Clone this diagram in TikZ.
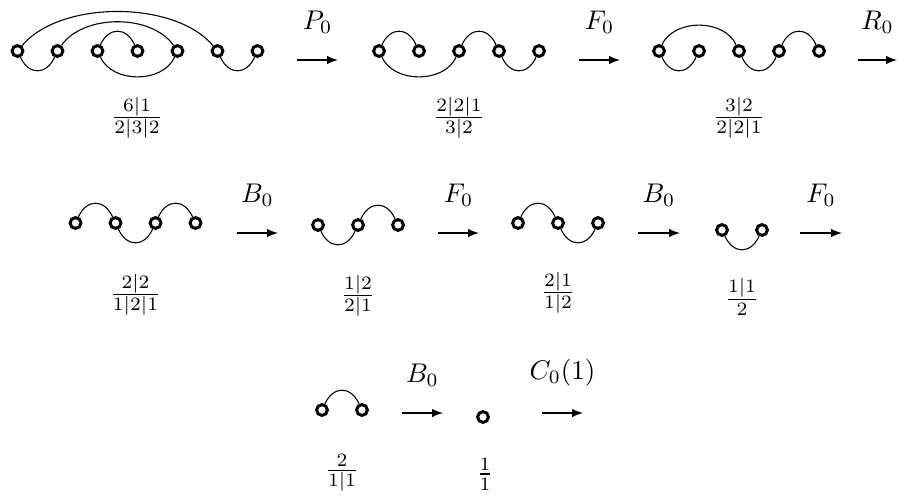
\documentclass[tikz,border=0pt]{standalone}
\usepackage{amsmath, amssymb}
\usetikzlibrary{arrows}

\begin{document}
\begin{tikzpicture}[x=0.37pt, y=-0.37pt, >=latex,
    dot/.style={circle, draw, line width=1.1pt, minimum size=4pt, inner sep=0pt},
    over/.style={out=65, in=115, looseness=1.5},
    under/.style={out=-65, in=-115, looseness=1.5}]
    \useasboundingbox (0,0) rectangle (899,498);

    % Draw nodes, first row
    \node[dot] (a1) at (17.5,51) {};
    \node[dot] (a2) at (57.5,51) {};
    \node[dot] (a3) at (97.5,51) {};
    \node[dot] (a4) at (137.5,51) {};
    \node[dot] (a5) at (177.5,51) {};
    \node[dot] (a6) at (217.5,51) {};
    \node[dot] (a7) at (257.5,51) {};

    \node[dot] (b1) at (379,51) {};
    \node[dot] (b2) at (419,51) {};
    \node[dot] (b3) at (459,51) {};
    \node[dot] (b4) at (499,51) {};
    \node[dot] (b5) at (539,51) {};

    \node[dot] (c1) at (659,51) {};
    \node[dot] (c2) at (699,51) {};
    \node[dot] (c3) at (739,51) {};
    \node[dot] (c4) at (779,51) {};
    \node[dot] (c5) at (819,51) {};

    % Draw nodes, second row
    \node[dot] (d1) at (75.5,223) {};
    \node[dot] (d2) at (115.5,223) {};
    \node[dot] (d3) at (155.5,223) {};
    \node[dot] (d4) at (195.5,223) {};

    \node[dot] (e1) at (318,225) {};
    \node[dot] (e2) at (358,225) {};
    \node[dot] (e3) at (398,225) {};

    \node[dot] (f1) at (518,223) {};
    \node[dot] (f2) at (558,223) {};
    \node[dot] (f3) at (598,223) {};

    \node[dot] (g1) at (722,230) {};
    \node[dot] (g2) at (762,230) {};

    % Draw nodes, third row
    \node[dot] (h1) at (322,410) {};
    \node[dot] (h2) at (362,410) {};

    \node[dot] (k1) at (483,417) {};

    % Draw connections
    \draw (a1) to[out=50, in=130, looseness=0.8] (a6);
    \draw (a2) to[out=55, in=125, looseness=0.88] (a5);
    \draw (a3) to[over] (a4);
    \draw (a1) to[under] (a2);
    \draw (a3) to[under, looseness=1] (a5);
    \draw (a6) to[under] (a7);

    \draw (b1) to[over] (b2);
    \draw (b3) to[over] (b4);
    \draw (b1) to[under, looseness=1] (b3);
    \draw (b4) to[under] (b5);

    \draw (c1) to[over, looseness=1] (c3);
    \draw (c4) to[over] (c5);
    \draw (c1) to[under] (c2);
    \draw (c3) to[under] (c4);

    \draw (d1) to[over] (d2);
    \draw (d3) to[over] (d4);
    \draw (d2) to[under] (d3);

    \draw (e1) to[under] (e2);
    \draw (e2) to[over] (e3);

    \draw (f1) to[over] (f2);
    \draw (f2) to[under] (f3);

    \draw (g1) to[under] (g2);

    \draw (h1) to[over] (h2);

    % Arrows
    \coordinate (s1) at (297,60);  \coordinate (t1) at (338,60);
    \coordinate (s2) at (579,60);  \coordinate (t2) at (620,60);
    \coordinate (s3) at (858,60);  \coordinate (t3) at (897,60);
    \coordinate (s4) at (237,233); \coordinate (t4) at (278,233);
    \coordinate (s5) at (438,233); \coordinate (t5) at (479,233);
    \coordinate (s6) at (638,233); \coordinate (t6) at (680,233);
    \coordinate (s7) at (800,233); \coordinate (t7) at (842,233);
    \coordinate (s8) at (402,413); \coordinate (t8) at (443,413);
    \coordinate (s9) at (542,413); \coordinate (t9) at (583,413);

    \draw[->] (s1) -- (t1) node[midway, above=6.3pt] (m1) {$P_0$};
    \draw[->] (s2) -- (t2) node[midway, above=6.3pt] (m2) {$F_0$};
    \draw[->] (s3) -- (t3) node[midway, above=6.3pt] (m3) {$R_0$};
    \draw[->] (s4) -- (t4) node[midway, above=6.3pt] (m4) {$B_0$};
    \draw[->] (s5) -- (t5) node[midway, above=6.3pt] (m5) {$F_0$};
    \draw[->] (s6) -- (t6) node[midway, above=6.3pt] (m6) {$B_0$};
    \draw[->] (s7) -- (t7) node[midway, above=6.3pt] (m7) {$F_0$};
    \draw[->] (s8) -- (t8) node[midway, above=6.3pt] (m8) {$B_0$};
    \draw[->] (s9) -- (t9) node[midway, above=6.3pt] (m9) {$C_0(1)$};

    % Labels
    \node (q1) at (137,118) {$\frac{6|1}{2|3|2}$};
    \node (q2) at (459,118) {$\frac{2|2|1}{3|2}$};
    \node (q3) at (739,118) {$\frac{3|2}{2|2|1}$};
    \node (q4) at (135.5,295) {$\frac{2|2}{1|2|1}$};
    \node (q5) at (358,296) {$\frac{1|2}{2|1}$};
    \node (q6) at (558,293) {$\frac{2|1}{1|2}$};
    \node (q7) at (742,297) {$\frac{1|1}{2}$};
    \node (q8) at (342,473) {$\frac{2}{1|1}$};
    \node (q9) at (485,474) {$\frac{1}{1}$};
\end{tikzpicture}
\end{document}
